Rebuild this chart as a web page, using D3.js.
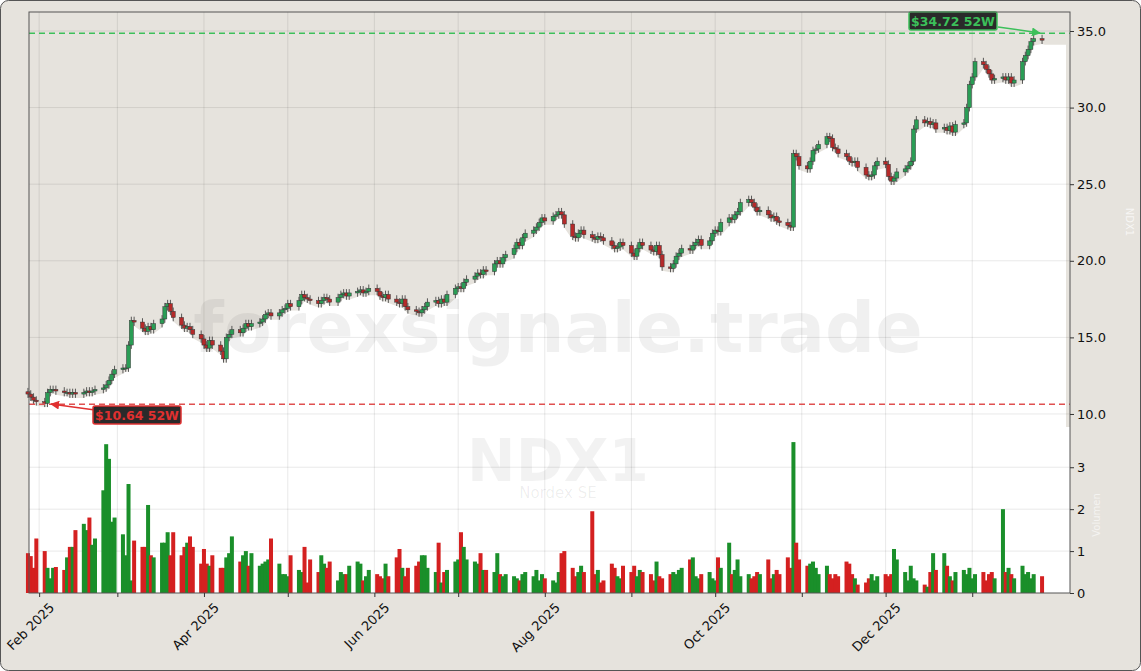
<!DOCTYPE html>
<html><head><meta charset="utf-8">
<script src="https://cdn.jsdelivr.net/npm/d3@7"></script>
<style>body{margin:0;background:#fff;font-family:"DejaVu Sans",sans-serif}</style>
</head><body><svg id="chart"></svg>
<script>
const W = 1141, H = 671;
const START = "2025-01-28";
// daily closes, one line per week
const closes = [
  11.3,11.1,10.9,10.8,10.7, 11.4,11.6,11.6,11.5,11.4, 11.4,11.3,11.4,11.3,11.4, 11.5,11.4,11.5,11.6,11.7,
  11.9,12.2,12.6,12.9,13.0, 13.0,14.5,16.1,16.0,15.6, 15.4,15.7,15.5,15.9,16.2, 17.0,17.2,16.7,16.3,15.8,
  15.6,15.7,15.5,15.2,14.9, 14.5,14.3,14.8,14.5,14.1, 13.6,15.0,15.2,15.5,15.3, 15.6,15.9,15.7,15.9,16.0,
  16.2,16.5,16.6,16.4,16.6, 16.8,16.9,17.2,17.0,17.4, 17.8,17.6,17.5,17.4,17.2, 17.4,17.6,17.5,17.3,17.6,
  17.8,17.9,17.7,17.9,18.0, 18.1,17.9,18.0,18.2,18.0, 17.7,17.6,17.8,17.5,17.3, 17.2,17.5,17.0,16.8,16.7,
  16.6,16.8,17.0,17.3,17.4, 17.2,17.5,17.3,17.8,18.2, 18.3,18.2,18.6,18.8,19.0, 19.2,19.1,19.4,19.3,19.8,
  20.0,19.8,20.2,20.4,20.8, 21.2,21.0,21.5,21.8,22.0, 22.2,22.5,22.8,22.6,22.9, 23.0,23.2,23.0,22.4,21.6,
  21.5,21.8,22.0,21.7,21.5, 21.4,21.6,21.5,21.3,21.0, 20.8,20.9,21.2,21.0,20.5, 20.3,20.8,21.2,21.0,20.7,
  20.6,21.0,20.4,19.6,19.5, 19.8,20.3,20.5,20.8,20.7, 21.0,21.2,21.4,21.0,21.3, 21.8,22.0,21.9,22.5,22.8,
  22.7,23.0,23.2,23.8,24.0, 23.8,23.5,23.2,23.3,23.0, 22.8,22.9,22.6,22.5,22.3, 22.2,27.0,26.8,26.2,26.0,
  26.5,27.2,27.3,27.6,28.1, 28.0,27.4,27.3,27.0,26.8, 26.5,26.4,26.5,26.1,25.6, 25.5,25.6,26.2,26.5,26.3,
  25.5,25.2,25.4,25.8,26.0, 26.2,26.5,28.6,29.2,29.0, 29.1,28.9,29.0,28.6,28.7, 28.5,28.8,28.4,28.9,29.0,
  30.0,31.5,32.0,33.0,32.8, 32.5,32.2,31.8,31.9,32.0, 31.8,32.0,31.6,31.8,33.0, 33.4,33.8,34.3,34.5,34.4
];
// daily volume in millions
const volumes = [
  0.95,0.88,0.6,1.3,1.0, 0.6,0.35,0.6,0.62,0.55, 0.85,1.1,1.1,1.5,1.65, 1.5,1.8,1.15,1.3,2.45,
  3.55,3.2,1.7,1.8,1.4, 0.9,2.6,0.3,1.25,1.1, 1.1,2.1,0.9,0.85,1.2, 1.2,1.45,0.9,1.45,0.9,
  1.1,1.2,1.35,1.1,0.7, 1.05,0.7,0.65,0.9,0.6, 0.6,0.85,0.95,1.35,0.75, 0.9,1.0,0.65,0.95,0.65,
  0.7,0.75,0.8,1.3,0.7, 0.45,0.45,0.4,0.9,0.55, 0.5,1.1,0.25,0.8,0.5, 0.9,0.7,0.6,0.75,0.3,
  0.5,0.45,0.45,0.65,0.75, 0.7,0.3,0.4,0.55,0.45, 0.4,0.35,0.7,0.4,0.85, 1.05,0.6,0.4,0.6,0.65,
  0.75,0.9,0.9,0.6,0.5, 1.2,0.25,0.5,0.55,0.75, 0.8,1.45,1.1,0.8,0.75, 0.7,0.95,0.55,0.55,0.5,
  0.95,0.45,0.4,0.45,0.4, 0.35,0.3,0.45,0.5,0.4, 0.55,0.3,0.45,0.35,0.3, 0.25,0.5,0.95,1.0,0.6,
  0.4,0.5,0.65,0.5,1.95, 0.45,0.55,0.25,0.3,0.7, 0.6,0.4,0.35,0.65,0.5, 0.65,0.4,0.55,0.5,0.45,
  0.3,0.75,0.4,0.35,0.45, 0.5,0.45,0.55,0.6,0.8, 0.85,0.4,0.35,0.45,0.5, 0.35,0.3,0.85,0.6,1.2,
  0.45,0.55,0.8,0.4,0.45, 0.35,0.4,0.5,0.45,0.8, 0.35,0.45,0.55,0.45,0.85, 0.6,3.6,1.2,0.8,0.65,
  0.7,0.75,0.6,0.45,0.65, 0.45,0.35,0.45,0.4,0.75, 0.7,0.45,0.35,0.2,0.25, 0.35,0.45,0.3,0.4,0.45,
  0.4,0.45,1.05,0.8,0.5, 0.3,0.65,0.35,0.3,0.2, 0.15,0.5,0.95,0.55,0.95, 0.65,0.4,0.3,0.5,0.55,
  0.45,0.6,0.35,0.45,0.5, 0.3,0.45,0.5,0.35,2.0, 0.5,0.6,0.45,0.35,0.65, 0.45,0.5,0.35,0.45,0.4
];
const priceTicks = [10, 15, 20, 25, 30, 35];
const volTicks = [0, 1, 2, 3];
const low52 = 10.64, high52 = 34.72;

// trading days
const days = [];
for (let d = new Date(START + "T00:00:00"); days.length < closes.length; d.setDate(d.getDate() + 1)) {
  if (d.getDay() > 0 && d.getDay() < 6) days.push(new Date(d));
}
const candles = closes.map((c, i) => {
  const o = i ? closes[i - 1] : c + 0.15;
  return { date: days[i], o, c, h: Math.max(o, c) + 0.25, l: Math.min(o, c) - 0.25, v: volumes[i] };
});

const L = 29, R = 1070, T = 12, PB = 427, B = 593;
const svg = d3.select("#chart").attr("width", W).attr("height", H);
svg.append("rect").attr("x", 0.5).attr("y", 0.5).attr("width", W - 1).attr("height", H - 1)
  .attr("rx", 8).attr("fill", "#e6e3dd").attr("stroke", "#555");

const x = d3.scaleTime().domain([new Date("2025-01-28T09:00"), new Date("2026-02-05")]).range([L, R]);
const y = d3.scaleLinear().domain([9.15, 36.24]).range([PB, T]);
const yv = d3.scaleLinear().domain([0, 3.65]).range([B, 440]);

svg.append("rect").attr("x", L).attr("y", T).attr("width", R - L).attr("height", PB - T).attr("fill", "#e6e3dd");
svg.append("rect").attr("x", L).attr("y", PB).attr("width", R - L).attr("height", B - PB).attr("fill", "#fff");
const areaData = [{ date: x.invert(L), v: candles[0].l }, ...candles.map(d => ({ date: d.date, v: d.l })),
  { date: new Date(+candles[candles.length - 1].date + 86400000), v: 34.1 }, { date: x.invert(1066), v: 34.1 }];
svg.append("path").datum(areaData).attr("fill", "#fff")
  .attr("d", d3.area().x(d => x(d.date)).y0(B).y1(d => y(d.v)));

// grid
const months = d3.timeMonth.range(new Date("2025-02-01"), new Date("2026-01-31"));
const grid = svg.append("g").attr("stroke", "#000").attr("stroke-opacity", 0.09);
months.forEach(m => grid.append("line").attr("x1", x(m)).attr("x2", x(m)).attr("y1", T).attr("y2", B));
priceTicks.forEach(t => grid.append("line").attr("x1", L).attr("x2", R).attr("y1", y(t)).attr("y2", y(t)));
volTicks.slice(1).forEach(t => grid.append("line").attr("x1", L).attr("x2", R).attr("y1", yv(t)).attr("y2", yv(t)));

// watermarks
svg.append("text").attr("x", 558).attr("y", 352).attr("text-anchor", "middle").attr("font-size", 70)
  .attr("font-weight", "bold").attr("fill", "#000").attr("fill-opacity", 0.06).text("forexsignale.trade");
svg.append("text").attr("x", 558).attr("y", 481).attr("text-anchor", "middle").attr("font-size", 58)
  .attr("font-weight", "bold").attr("fill", "#000").attr("fill-opacity", 0.05).text("NDX1");
svg.append("text").attr("x", 558).attr("y", 498).attr("text-anchor", "middle").attr("font-size", 15)
  .attr("fill", "#000").attr("fill-opacity", 0.07).text("Nordex SE");
svg.append("text").attr("transform", "translate(1126,222) rotate(90)").attr("text-anchor", "middle")
  .attr("font-size", 10).attr("fill", "#fff").attr("fill-opacity", 0.7).text("NDX1");
svg.append("text").attr("transform", "translate(1100,515) rotate(-90)").attr("text-anchor", "middle")
  .attr("font-size", 10).attr("fill", "#fff").attr("fill-opacity", 0.6).text("Volumen");

// volume bars
const up = "#1a8f2a", dn = "#d42020";
svg.append("g").selectAll("rect").data(candles).join("rect")
  .attr("x", d => x(d.date) - 2).attr("width", 4)
  .attr("y", d => yv(d.v)).attr("height", d => B - yv(d.v))
  .attr("fill", d => d.c >= d.o ? up : dn);

// candles
const cg = svg.append("g");
cg.selectAll("line").data(candles).join("line")
  .attr("x1", d => x(d.date)).attr("x2", d => x(d.date))
  .attr("y1", d => y(d.h)).attr("y2", d => y(d.l)).attr("stroke", "#333").attr("stroke-width", 0.8);
cg.selectAll("rect").data(candles).join("rect")
  .attr("x", d => x(d.date) - 2).attr("width", 4)
  .attr("y", d => y(Math.max(d.o, d.c))).attr("height", d => Math.max(1, Math.abs(y(d.o) - y(d.c))))
  .attr("fill", d => d.c >= d.o ? "#2a9d55" : "#b52a2a").attr("stroke", "#333").attr("stroke-width", 0.5);

// 52w lines
svg.append("line").attr("x1", L).attr("x2", R).attr("y1", y(high52) - 2).attr("y2", y(high52) - 2)
  .attr("stroke", "#3cc05a").attr("stroke-width", 1.5).attr("stroke-dasharray", "6,4");
svg.append("line").attr("x1", L).attr("x2", R).attr("y1", y(low52)).attr("y2", y(low52))
  .attr("stroke", "#e05050").attr("stroke-width", 1.5).attr("stroke-dasharray", "6,4");
const defs = svg.append("defs");
[["ag", "#3cc05a"], ["ar", "#e03030"]].forEach(([id, c]) => defs.append("marker").attr("id", id)
  .attr("viewBox", "0 0 10 10").attr("refX", 9).attr("refY", 5).attr("markerWidth", 6).attr("markerHeight", 6)
  .attr("orient", "auto").append("path").attr("d", "M0,0L10,5L0,10z").attr("fill", c));
svg.append("line").attr("x1", 998).attr("y1", 27).attr("x2", 1040).attr("y2", 33)
  .attr("stroke", "#3cc05a").attr("stroke-width", 1.5).attr("marker-end", "url(#ag)");
svg.append("line").attr("x1", 95).attr("y1", 410).attr("x2", 51).attr("y2", 404)
  .attr("stroke", "#e03030").attr("stroke-width", 1.5).attr("marker-end", "url(#ar)");
function badge(cx, cy, txt, col) {
  svg.append("rect").attr("x", cx - 44).attr("y", cy - 9).attr("width", 88).attr("height", 18).attr("rx", 2)
    .attr("fill", "#2a2a2a").attr("stroke", col).attr("stroke-width", 1.5);
  svg.append("text").attr("x", cx).attr("y", cy + 4.5).attr("text-anchor", "middle").attr("font-size", 12.5)
    .attr("font-weight", "bold").attr("fill", col).text(txt);
}
badge(953, 21, "$" + high52.toFixed(2) + " 52W", "#3cc05a");
badge(137, 415, "$" + low52.toFixed(2) + " 52W", "#e03030");

// frame and axes
svg.append("rect").attr("x", L).attr("y", T).attr("width", R - L).attr("height", B - T)
  .attr("fill", "none").attr("stroke", "#555");
const ya = svg.append("g").attr("transform", `translate(${R},0)`)
  .call(d3.axisRight(y).tickValues(priceTicks).tickFormat(d3.format(".1f")).tickSize(4));
const va = svg.append("g").attr("transform", `translate(${R},0)`)
  .call(d3.axisRight(yv).tickValues(volTicks).tickFormat(d3.format("d")).tickSize(4));
const xa = svg.append("g").attr("transform", `translate(0,${B})`)
  .call(d3.axisBottom(x).tickValues(months).tickSize(4)
    .tickFormat((d, i) => i % 2 === 0 ? d3.timeFormat("%b %Y")(d) : ""));
xa.selectAll("text").attr("text-anchor", "end").attr("transform", "translate(4,4) rotate(-45)");
[ya, va, xa].forEach(g => {
  g.select(".domain").remove();
  g.selectAll("text").attr("font-size", 13).attr("font-family", "DejaVu Sans").attr("fill", "#111");
  g.selectAll("line").attr("stroke", "#333");
});
</script></body></html>
